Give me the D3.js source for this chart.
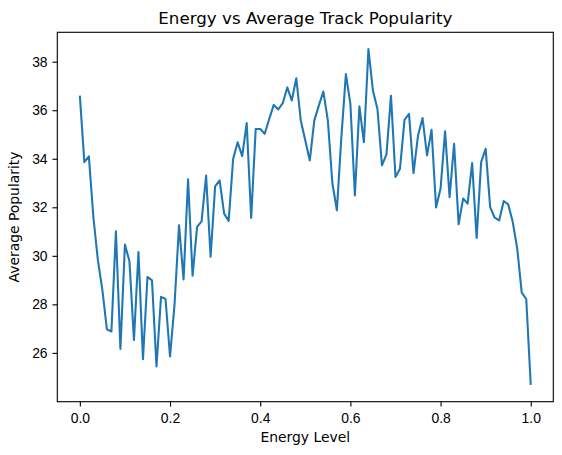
<!DOCTYPE html>
<html lang="en">
<head>
  <meta charset="UTF-8">
  <title>Energy vs Average Track Popularity</title>
  <script src="https://cdn.jsdelivr.net/npm/d3@7"></script>
  <style>
    body {
      margin: 0;
      background-color: #fff;
    }
    svg {
      display: block;
      font-family: "DejaVu Sans", sans-serif;
    }
    .axis text {
      font-size: 13.9px;
      fill: #000;
    }
    .axis path,
    .axis line {
      stroke: #000;
      stroke-width: 1.1px;
    }
  </style>
</head>
<body>
  <div id="chart"></div>
  <script>
    // energy level buckets (x) and mean popularity per bucket (y)
    const energyLevels = [
      0.00, 0.01, 0.02, 0.03, 0.04, 0.05, 0.06, 0.07, 0.08, 0.09,
      0.10, 0.11, 0.12, 0.13, 0.14, 0.15, 0.16, 0.17, 0.18, 0.19,
      0.20, 0.21, 0.22, 0.23, 0.24, 0.25, 0.26, 0.27, 0.28, 0.29,
      0.30, 0.31, 0.32, 0.33, 0.34, 0.35, 0.36, 0.37, 0.38, 0.39,
      0.40, 0.41, 0.42, 0.43, 0.44, 0.45, 0.46, 0.47, 0.48, 0.49,
      0.50, 0.51, 0.52, 0.53, 0.54, 0.55, 0.56, 0.57, 0.58, 0.59,
      0.60, 0.61, 0.62, 0.63, 0.64, 0.65, 0.66, 0.67, 0.68, 0.69,
      0.70, 0.71, 0.72, 0.73, 0.74, 0.75, 0.76, 0.77, 0.78, 0.79,
      0.80, 0.81, 0.82, 0.83, 0.84, 0.85, 0.86, 0.87, 0.88, 0.89,
      0.90, 0.91, 0.92, 0.93, 0.94, 0.95, 0.96, 0.97, 0.98, 0.99,
      1.00
    ];
    const avgPopularity = [
      36.60, 33.86, 34.10, 31.60, 29.82, 28.59, 26.97, 26.88, 31.01, 26.16,
      30.46, 29.78, 26.53, 30.16, 25.74, 29.13, 28.99, 25.44, 28.31, 28.22,
      25.85, 28.00, 31.26, 29.03, 33.15, 29.18, 31.19, 31.42, 33.31, 29.96,
      32.86, 33.11, 31.74, 31.44, 34.00, 34.68, 34.11, 35.47, 31.56, 35.23,
      35.23, 35.03, 35.64, 36.22, 36.03, 36.29, 36.94, 36.40, 37.32, 35.58,
      34.75, 33.93, 35.58, 36.19, 36.77, 35.58, 33.00, 31.88, 34.89, 37.49,
      36.26, 32.49, 36.16, 34.68, 38.52, 36.81, 36.05, 33.73, 34.18, 36.60,
      33.25, 33.59, 35.60, 35.85, 33.41, 34.96, 35.68, 34.14, 35.19, 31.99,
      32.77, 35.13, 32.42, 34.62, 31.30, 32.36, 32.15, 33.82, 30.74, 33.86,
      34.41, 32.01, 31.57, 31.46, 32.26, 32.12, 31.40, 30.30, 28.48, 28.22,
      24.68
    ];
    const xTicks = [0.0, 0.2, 0.4, 0.6, 0.8, 1.0];
    const yTicks = [26, 28, 30, 32, 34, 36, 38];

    const chartTitle = "Energy vs Average Track Popularity";
    const xLabel = "Energy Level";
    const yLabel = "Average Popularity";

    const w = 562;
    const h = 455;
    const margin = { top: 32.3, right: 8.7, bottom: 53.3, left: 57.3 };
    const innerW = w - margin.left - margin.right;
    const innerH = h - margin.top - margin.bottom;
    const tickLen = 4.86;

    const data = energyLevels.map((e, i) => ({ x: e, y: avgPopularity[i] }));

    // matplotlib style 5% data margins
    const [xMin, xMax] = d3.extent(energyLevels);
    const [yMin, yMax] = d3.extent(avgPopularity);
    const xPad = (xMax - xMin) * 0.05;
    const yPad = (yMax - yMin) * 0.05;

    const xScale = d3.scaleLinear()
      .domain([xMin - xPad, xMax + xPad])
      .range([0, innerW]);

    const yScale = d3.scaleLinear()
      .domain([yMin - yPad, yMax + yPad])
      .range([innerH, 0]);

    const svg = d3.select("#chart")
      .append("svg")
      .attr("width", w)
      .attr("height", h);

    const g = svg.append("g")
      .attr("transform", "translate(" + margin.left + "," + margin.top + ")");

    const line = d3.line()
      .x(d => xScale(d.x))
      .y(d => yScale(d.y));

    g.append("path")
      .datum(data)
      .attr("fill", "none")
      .attr("stroke", "#1f77b4")
      .attr("stroke-width", 2.08)
      .attr("stroke-linejoin", "round")
      .attr("stroke-linecap", "butt")
      .attr("d", line);

    const xAxis = d3.axisBottom(xScale)
      .tickValues(xTicks)
      .tickFormat(d3.format(".1f"))
      .tickSize(tickLen)
      .tickSizeOuter(0)
      .tickPadding(6.6);

    const yAxis = d3.axisLeft(yScale)
      .tickValues(yTicks)
      .tickFormat(d3.format("d"))
      .tickSize(tickLen)
      .tickSizeOuter(0)
      .tickPadding(4.86);

    g.append("g")
      .attr("class", "axis")
      .attr("transform", "translate(0," + innerH + ")")
      .call(xAxis)
      .call(a => a.select(".domain").remove());

    g.append("g")
      .attr("class", "axis")
      .call(yAxis)
      .call(a => a.select(".domain").remove());

    // frame (all four spines)
    g.append("rect")
      .attr("x", 0)
      .attr("y", 0)
      .attr("width", innerW)
      .attr("height", innerH)
      .attr("fill", "none")
      .attr("stroke", "#000")
      .attr("stroke-width", 1.1);

    svg.append("text")
      .attr("x", margin.left + innerW / 2)
      .attr("y", 24)
      .attr("text-anchor", "middle")
      .attr("font-size", "16.7px")
      .attr("fill", "#000")
      .text(chartTitle);

    svg.append("text")
      .attr("x", margin.left + innerW / 2)
      .attr("y", 441.7)
      .attr("text-anchor", "middle")
      .attr("font-size", "13.9px")
      .attr("fill", "#000")
      .text(xLabel);

    svg.append("text")
      .attr("transform", "translate(19," + (margin.top + innerH / 2) + ") rotate(-90)")
      .attr("text-anchor", "middle")
      .attr("font-size", "13.9px")
      .attr("fill", "#000")
      .text(yLabel);
  </script>
</body>
</html>
